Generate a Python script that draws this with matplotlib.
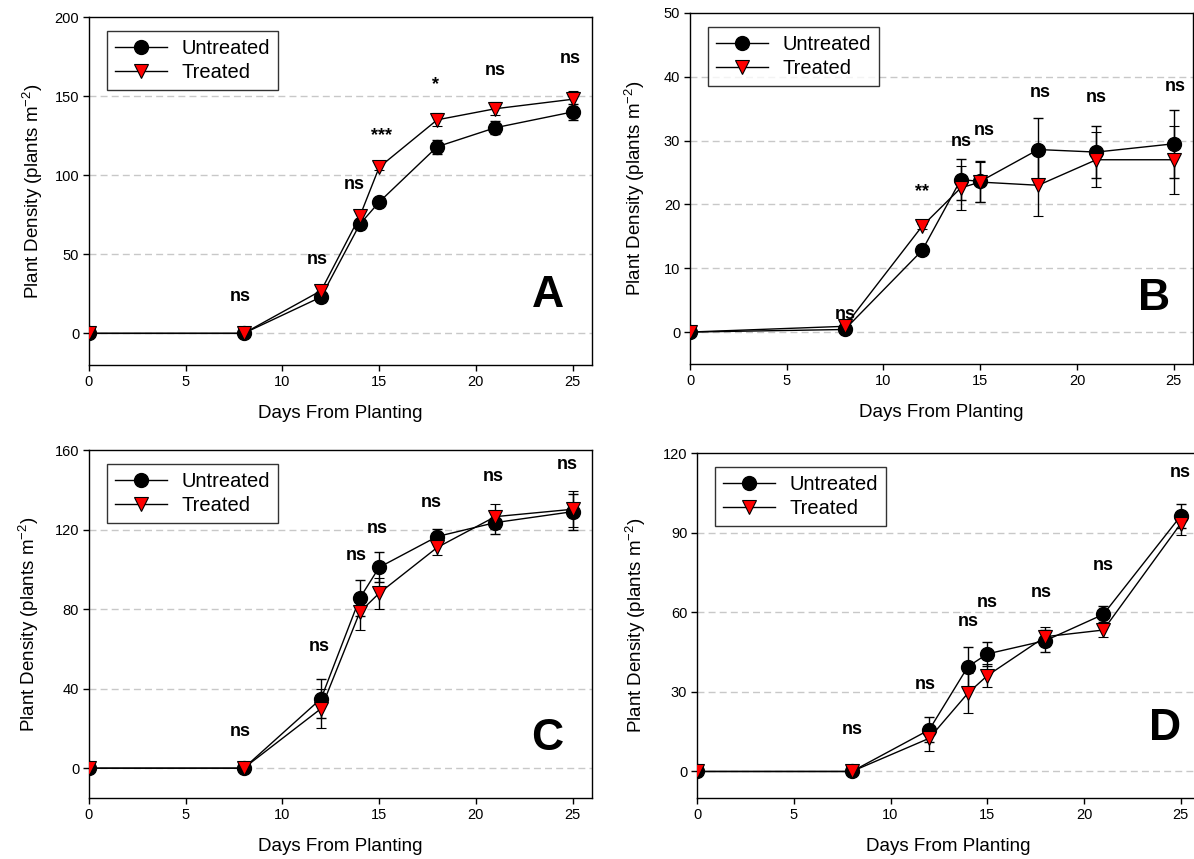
import matplotlib
matplotlib.use("Agg")
import matplotlib.pyplot as plt

plt.rcParams['font.family'] = ['Liberation Sans', 'DejaVu Sans']

days = [0, 8, 12, 14, 15, 18, 21, 25]

# panel A
a_untreated = [0, 0, 23, 69, 83, 118, 130, 140]
a_untreated_err = [0, 0, 3, 3, 2, 4.5, 4, 5]
a_treated = [0, 0, 27, 74, 105, 135, 142, 148]
a_treated_err = [0, 0, 3.5, 3.5, 2, 4, 4, 5]
a_sig = ['ns', 'ns', 'ns', '***', '*', 'ns', 'ns']
a_sig_x = [7.8, 11.8, 13.7, 15.1, 17.9, 21.0, 24.9]
a_sig_y = [23, 47, 94, 125, 157, 166, 174]

# panel B
b_untreated = [0, 0.4, 12.8, 23.9, 23.6, 28.6, 28.2, 29.5]
b_untreated_err = [0, 0.3, 0.4, 3.2, 3.2, 4.9, 4.1, 5.3]
b_treated = [0, 0.9, 16.6, 22.6, 23.5, 23.0, 27.0, 27.0]
b_treated_err = [0, 0.3, 0.4, 3.4, 3.1, 4.8, 4.3, 5.3]
b_sig = ['ns', '**', 'ns', 'ns', 'ns', 'ns', 'ns']
b_sig_x = [8.0, 12.0, 14.0, 15.2, 18.1, 21.0, 25.1]
b_sig_y = [2.7, 22, 29.9, 31.6, 37.6, 36.8, 38.5]

# panel C
c_untreated = [0, 0, 35, 85.5, 101, 116.5, 123.5, 129]
c_untreated_err = [0, 0, 10, 9, 7.5, 4, 5.8, 9]
c_treated = [0, 0, 30, 78.5, 88, 111, 126.5, 130.2]
c_treated_err = [0, 0, 10, 9, 7.7, 4, 6.3, 9]
c_sig = ['ns', 'ns', 'ns', 'ns', 'ns', 'ns', 'ns']
c_sig_x = [7.8, 11.9, 13.8, 14.9, 17.7, 20.9, 24.7]
c_sig_y = [18.4, 61, 107, 120.5, 133.5, 146.6, 152.8]

# panel D
d_untreated = [0, 0, 15.7, 39.5, 44.3, 49.3, 59.2, 96.3]
d_untreated_err = [0, 0, 4.7, 7.5, 4.6, 4.2, 3, 4.6]
d_treated = [0, 0, 12.5, 29.5, 36.1, 50.8, 53.3, 93.4]
d_treated_err = [0, 0, 4.6, 7.5, 4.4, 3.7, 2.8, 4.4]
d_sig = ['ns', 'ns', 'ns', 'ns', 'ns', 'ns', 'ns']
d_sig_x = [8.0, 11.8, 14.0, 15.0, 17.8, 21.0, 25.0]
d_sig_y = [15.9, 32.9, 56.4, 63.7, 67.5, 77.7, 112.6]

panels = [
    # letter, untreated, u_err, treated, t_err, sig, sig_x, sig_y, ylim, yticks, letter pos, axes rect, ylabel x
    ('A', a_untreated, a_untreated_err, a_treated, a_treated_err, a_sig, a_sig_x, a_sig_y,
     (-20, 200), [0, 50, 100, 150, 200], (23.7, 24), [0.0745, 0.5751, 0.4213, 0.4051], -0.088),
    ('B', b_untreated, b_untreated_err, b_treated, b_treated_err, b_sig, b_sig_x, b_sig_y,
     (-5, 50), [0, 10, 20, 30, 40, 50], (24.0, 5.3), [0.5779, 0.5763, 0.4213, 0.4086], -0.085),
    ('C', c_untreated, c_untreated_err, c_treated, c_treated_err, c_sig, c_sig_x, c_sig_y,
     (-15, 160), [0, 40, 80, 120, 160], (23.7, 15), [0.0745, 0.0710, 0.4213, 0.4051], -0.096),
    ('D', d_untreated, d_untreated_err, d_treated, d_treated_err, d_sig, d_sig_x, d_sig_y,
     (-10, 120), [0, 30, 60, 90, 120], (24.2, 16.3), [0.5838, 0.0710, 0.4213, 0.4016], -0.097),
]

fig = plt.figure(figsize=(11.94, 8.59), dpi=100)

for (letter, unt, unt_err, trt, trt_err, sig, sig_x, sig_y,
     ylim, yticks, letter_pos, rect, ylab_x) in panels:
    ax = fig.add_axes(rect)

    # dashed grid at major ticks
    for yt in yticks[:-1]:
        ax.axhline(yt, color='#c8c8c8', linestyle=(0, (5, 3)), linewidth=1, zorder=0)

    eb1 = ax.errorbar(days, unt, yerr=unt_err, color='black', linewidth=1,
                      marker='o', markersize=10, markerfacecolor='black',
                      markeredgecolor='black', ecolor='black', elinewidth=1,
                      capsize=3.5, capthick=1, label='Untreated', zorder=3)
    eb2 = ax.errorbar(days, trt, yerr=trt_err, color='black', linewidth=1,
                      marker='v', markersize=10, markerfacecolor='red',
                      markeredgecolor='black', markeredgewidth=0.8, ecolor='black',
                      elinewidth=1, capsize=3.5, capthick=1, label='Treated', zorder=4)

    for s, sx, sy in zip(sig, sig_x, sig_y):
        ax.text(sx, sy, s, ha='center', va='center', fontsize=13,
                fontweight='bold', zorder=5)

    ax.text(letter_pos[0], letter_pos[1], letter, ha='center', va='center',
            fontsize=32, fontweight='bold', zorder=5)

    ax.set_xlim(0, 26)
    ax.set_ylim(*ylim)
    ax.set_xticks([0, 5, 10, 15, 20, 25])
    ax.set_yticks(yticks)
    ax.tick_params(direction='out', length=4, width=1, labelsize=10.5, pad=3)
    for sp in ax.spines.values():
        sp.set_linewidth(1)
        sp.set_color('black')

    ax.set_xlabel('Days From Planting', fontsize=13.5)
    ax.xaxis.set_label_coords(0.5, -0.115)
    ax.set_ylabel('Plant Density (plants m$^{\\mathregular{-2}}$)', fontsize=13.5)
    ax.yaxis.set_label_coords(ylab_x, 0.5)

    # legend handles without the error bars
    leg = ax.legend([eb1[0], eb2[0]], ['Untreated', 'Treated'],
                    loc='upper left', bbox_to_anchor=(0.035, 0.96), fontsize=14.5,
                    frameon=True, fancybox=False, edgecolor='black',
                    handlelength=2.6, handletextpad=0.7, borderpad=0.4,
                    labelspacing=0.25, borderaxespad=0)
    leg.get_frame().set_linewidth(1)

fig.savefig('out.png', dpi=100)
